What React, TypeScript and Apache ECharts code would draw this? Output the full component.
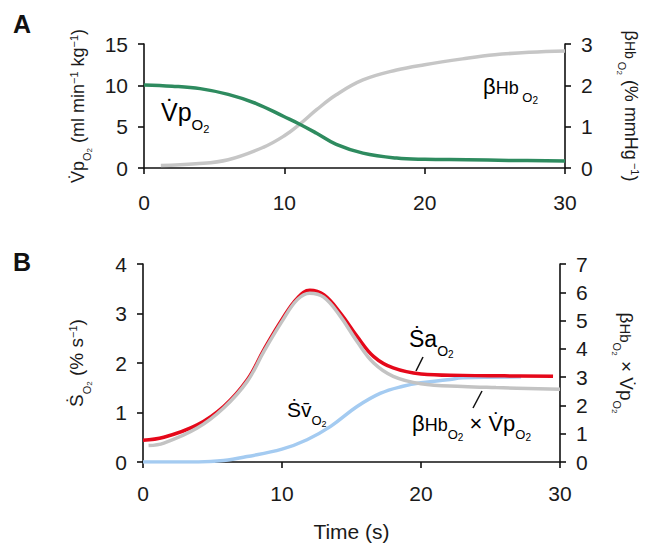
import React, { useEffect, useRef } from "react";
import * as echarts from "echarts";

// ---- Data ----
// Panel A: V̇pO2 (left axis, ml min-1 kg-1)
const vpTime = [0, 2, 4, 6, 8, 10, 11.1, 12.3, 13.7, 15.6, 18, 20, 23, 26, 30];
const vpValues = [10.05, 9.9, 9.6, 8.9, 7.8, 6.2, 5.3, 4.2, 2.85, 1.8, 1.2, 1.05, 1.0, 0.92, 0.85];
// Panel A: βHbO2 (right axis, % mmHg-1)
const betaTime = [1.2, 3.7, 6, 8.5, 10, 11.1, 12.3, 13.7, 15.6, 18, 20, 22.7, 25, 27.5, 30];
const betaValues = [0.06, 0.1, 0.2, 0.5, 0.78, 1.06, 1.41, 1.77, 2.13, 2.37, 2.5, 2.64, 2.74, 2.8, 2.83];
// Panel B: ṠaO2 (left axis, % s-1)
const saTime = [0, 1.5, 3.9, 5.8, 7.5, 8.7, 10, 11.1, 12, 13, 14.2, 15.4, 16.6, 18, 20, 23, 26, 29.5];
const saValues = [0.44, 0.5, 0.75, 1.12, 1.66, 2.27, 2.88, 3.31, 3.47, 3.38, 3.01, 2.54, 2.13, 1.9, 1.78, 1.75, 1.74, 1.73];
// Panel B: βHbO2 × V̇pO2 (right axis)
const prodTime = [0.4, 1.5, 3.9, 5.8, 7.5, 8.7, 10, 11.1, 12, 13, 14.2, 15.4, 16.6, 18, 20, 23, 25.4, 30];
const prodValues = [0.58, 0.67, 1.2, 1.91, 2.85, 3.91, 4.97, 5.74, 5.97, 5.83, 5.15, 4.26, 3.5, 3.03, 2.77, 2.67, 2.63, 2.57];
// Panel B: Ṡv̄O2 (left axis)
const svTime = [0, 4, 5.8, 7.5, 10, 11.8, 13.5, 15.4, 17.1, 18.7, 20, 21.9, 23, 27.2];
const svValues = [0, 0, 0.03, 0.11, 0.26, 0.45, 0.72, 1.12, 1.39, 1.53, 1.6, 1.66, 1.7, 1.72];

const xTicks = { min: 0, max: 30, interval: 10 };
const axisA = { leftMax: 15, leftInterval: 5, rightMax: 3, rightInterval: 1 };
const axisB = { leftMax: 4, leftInterval: 1, rightMax: 7, rightInterval: 1 };

const FONT = "'Liberation Sans', Arial, Helvetica, sans-serif";
const INK = "#1a1a1a";

const pairs = (xs: number[], ys: number[]) => xs.map((x, i) => [x, ys[i]]);

function richFor(base: number) {
  const hf = Math.round(base * 0.8);
  const sf = Math.round(base * 0.6);
  const ssf = Math.round(base * 0.44);
  return {
    n: { fontSize: base, lineHeight: Math.round(base * 1.38), verticalAlign: "top", fontFamily: FONT, color: INK },
    h: { fontSize: hf, lineHeight: hf, verticalAlign: "top", padding: [Math.round(base * 0.17), 0, 0, 0], fontFamily: FONT, color: INK },
    s: { fontSize: sf, lineHeight: sf, verticalAlign: "bottom", padding: [0, 0, Math.round(base * 0.06), 0], fontFamily: FONT, color: INK },
    ss: { fontSize: ssf, lineHeight: ssf, verticalAlign: "bottom", fontFamily: FONT, color: INK },
    sup: { fontSize: sf, lineHeight: sf, verticalAlign: "top", fontFamily: FONT, color: INK },
  };
}

const axisLine = { show: true, lineStyle: { color: "#111", width: 1.6 } };
const axisTick = { show: true, length: 6, lineStyle: { color: "#111", width: 1.6 } };
const axisLabel = (margin: number) => ({ fontSize: 21, color: INK, fontFamily: FONT, margin });

export default function App() {
  const ref = useRef<HTMLDivElement>(null);
  useEffect(() => {
    if (!ref.current) return;
    const chart = echarts.init(ref.current, null, { renderer: "svg" });
    const option: any = {
      animation: false,
      backgroundColor: "#ffffff",
      grid: [
        { left: 144, top: 44, width: 421, height: 124 },
        { left: 143, top: 264, width: 417, height: 198 },
      ],
      xAxis: [
        {
          type: "value", gridIndex: 0, ...xTicks,
          axisLine, axisTick, axisLabel: axisLabel(24), splitLine: { show: false },
        },
        {
          type: "value", gridIndex: 1, ...xTicks,
          axisLine, axisTick, axisLabel: axisLabel(21), splitLine: { show: false },
          name: "Time (s)", nameLocation: "middle", nameGap: 59,
          nameTextStyle: { fontSize: 21, color: INK, fontFamily: FONT },
        },
      ],
      yAxis: [
        {
          type: "value", gridIndex: 0, position: "left", min: 0, max: axisA.leftMax, interval: axisA.leftInterval,
          axisLine, axisTick, axisLabel: axisLabel(16), splitLine: { show: false },
          name: "{n|V\u0307p}{s|O}{ss|2}{n| (ml min}{sup|\u22121}{n| kg}{sup|\u22121}{n|)}",
          nameLocation: "middle", nameRotate: 90, nameGap: 50,
          nameTextStyle: { rich: richFor(18) },
        },
        {
          type: "value", gridIndex: 0, position: "right", min: 0, max: axisA.rightMax, interval: axisA.rightInterval,
          axisLine, axisTick, axisLabel: axisLabel(16), splitLine: { show: false },
          name: "{n|\u03b2}{h|Hb}{s| O}{ss|2}{n| (% mmHg}{sup| \u22121}{n|)}",
          nameLocation: "middle", nameRotate: -90, nameGap: 50,
          nameTextStyle: { rich: richFor(18) },
        },
        {
          type: "value", gridIndex: 1, position: "left", min: 0, max: axisB.leftMax, interval: axisB.leftInterval,
          axisLine, axisTick, axisLabel: axisLabel(16), splitLine: { show: false },
          name: "{n|\u1e60}{s|O}{ss|2}{n| (% s}{sup|\u22121}{n|)}",
          nameLocation: "middle", nameRotate: 90, nameGap: 50,
          nameTextStyle: { rich: richFor(19) },
        },
        {
          type: "value", gridIndex: 1, position: "right", min: 0, max: axisB.rightMax, interval: axisB.rightInterval,
          axisLine, axisTick, axisLabel: axisLabel(16), splitLine: { show: false },
          name: "{n|\u03b2}{h|Hb}{s|O}{ss|2}{n| \u00d7 V\u0307p}{s|O}{ss|2}",
          nameLocation: "middle", nameRotate: -90, nameGap: 50,
          nameTextStyle: { rich: richFor(19) },
        },
      ],
      series: [
        {
          type: "line", xAxisIndex: 0, yAxisIndex: 1, data: pairs(betaTime, betaValues),
          smooth: 0.4, showSymbol: false, lineStyle: { color: "#c6c6c6", width: 3.5 },
        },
        {
          type: "line", xAxisIndex: 0, yAxisIndex: 0, data: pairs(vpTime, vpValues),
          smooth: 0.4, showSymbol: false, lineStyle: { color: "#2e8b5f", width: 3.5 },
        },
        {
          type: "line", xAxisIndex: 1, yAxisIndex: 2, data: pairs(svTime, svValues),
          smooth: 0.4, showSymbol: false, lineStyle: { color: "#a4cbf1", width: 3.5 },
        },
        {
          type: "line", xAxisIndex: 1, yAxisIndex: 2, data: pairs(saTime, saValues),
          smooth: 0.4, showSymbol: false, lineStyle: { color: "#e5081a", width: 3.5 },
        },
        {
          type: "line", xAxisIndex: 1, yAxisIndex: 3, data: pairs(prodTime, prodValues),
          smooth: 0.4, showSymbol: false, lineStyle: { color: "#c3c3c3", width: 3.5 },
        },
      ],
      graphic: [
        { type: "text", left: 13, top: 11, style: { text: "A", fontSize: 25, fontWeight: "bold", fontFamily: FONT, fill: "#111" } },
        { type: "text", left: 13, top: 249, style: { text: "B", fontSize: 25, fontWeight: "bold", fontFamily: FONT, fill: "#111" } },
        {
          type: "text", x: 161, y: 99,
          style: { text: "{n|V\u0307p}{s|O}{ss|2}", rich: richFor(25) },
        },
        {
          type: "text", x: 483, y: 75,
          style: { text: "{n|\u03b2}{h|Hb}{s| O}{ss|2}", rich: richFor(22) },
        },
        {
          type: "text", x: 409, y: 327,
          style: { text: "{n|\u1e60a}{s|O}{ss|2}", rich: richFor(23) },
        },
        {
          type: "text", x: 287, y: 399,
          style: { text: "{n|\u1e60v\u0304}{s|O}{ss|2}", rich: richFor(21) },
        },
        {
          type: "text", x: 412, y: 412,
          style: { text: "{n|\u03b2}{h|Hb}{s|O}{ss|2}{n| \u00d7 V\u0307p}{s|O}{ss|2}", rich: richFor(22) },
        },
        { type: "line", shape: { x1: 423, y1: 357, x2: 416, y2: 371 }, style: { stroke: "#111", lineWidth: 1.5 } },
        { type: "line", shape: { x1: 482, y1: 391, x2: 473, y2: 408 }, style: { stroke: "#111", lineWidth: 1.5 } },
      ],
    };
    chart.setOption(option);
    return () => chart.dispose();
  }, []);
  return <div ref={ref} style={{ width: 649, height: 548, position: "absolute", left: 0, top: 0 }} />;
}
